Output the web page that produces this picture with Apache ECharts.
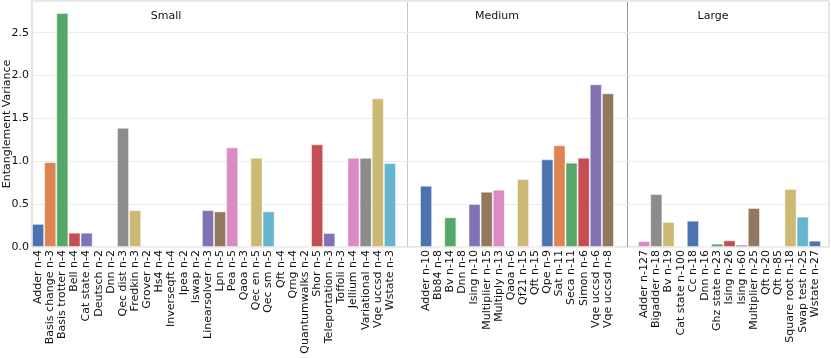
<!DOCTYPE html>
<html>
<head>
<meta charset="utf-8">
<script src="https://cdn.jsdelivr.net/npm/echarts@6/dist/echarts.min.js"></script>
<style>
  html, body { margin: 0; padding: 0; background: #fff; }
  #chart { width: 831px; height: 358px; }
</style>
</head>
<body>
<div id="chart"></div>
<script>
// panel data
const smallNames = ['Adder n-4', 'Basis change n-3', 'Basis trotter n-4', 'Bell n-4', 'Cat state n-4', 'Deutsch n-2',
  'Dnn n-2', 'Qec dist n-3', 'Fredkin n-3', 'Grover n-2', 'Hs4 n-4', 'Inverseqft n-4', 'Ipea n-2', 'Iswap n-2',
  'Linearsolver n-3', 'Lpn n-5', 'Pea n-5', 'Qaoa n-3', 'Qec en n-5', 'Qec sm n-5', 'Qft n-4', 'Qrng n-4',
  'Quantumwalks n-2', 'Shor n-5', 'Teleportation n-3', 'Toffoli n-3', 'Jellium n-4', 'Variational n-4',
  'Vqe uccsd n-4', 'Wstate n-3']
const smallValues = [0.27, 0.99, 2.73, 0.167, 0.167, 0, 0, 1.39, 0.43, 0, 0, 0, 0, 0,
  0.43, 0.416, 1.163, 0, 1.04, 0.416, 0, 0, 0, 1.198, 0.163, 0, 1.04, 1.04, 1.735, 0.98]

const mediumNames = ['Adder n-10', 'Bb84 n-8', 'Bv n-14', 'Dnn n-8', 'Ising n-10', 'Multiplier n-15', 'Multiply n-13',
  'Qaoa n-6', 'Qf21 n-15', 'Qft n-15', 'Qpe n-9', 'Sat n-11', 'Seca n-11', 'Simon n-6', 'Vqe uccsd n-6', 'Vqe uccsd n-8']
const mediumValues = [0.715, 0, 0.347, 0, 0.502, 0.645, 0.669, 0, 0.793, 0, 1.023, 1.187, 0.984, 1.042, 1.898, 1.793]

const largeNames = ['Adder n-127', 'Bigadder n-18', 'Bv n-19', 'Cat state n-100', 'Cc n-18', 'Dnn n-16', 'Ghz state n-23',
  'Ising n-26', 'Ising n-60', 'Multiplier n-25', 'Qft n-20', 'Qft n-85', 'Square root n-18', 'Swap test n-25', 'Wstate n-27']
const largeValues = [0.07, 0.618, 0.292, 0.005, 0.307, 0, 0.039, 0.078, 0.027, 0.455, 0, 0, 0.677, 0.354, 0.074]

const panelTitles = ['Small', 'Medium', 'Large']
const yTicks = [0, 0.5, 1.0, 1.5, 2.0, 2.5]

const palette = ['#4c72b0', '#dd8452', '#55a868', '#c44e52', '#8172b3',
  '#937860', '#da8bc3', '#8c8c8c', '#ccb974', '#64b5cd']

const YMAX = 2.87
const font = 'DejaVu Sans'

const panels = [
  { names: smallNames, values: smallValues, left: 32, width: 364, offset: 0, titleX: 161 },
  { names: mediumNames, values: mediumValues, left: 420, width: 194, offset: 0, titleX: 492 },
  { names: largeNames, values: largeValues, left: 638, width: 183, offset: 6, titleX: 708 }
]

const chart = echarts.init(document.getElementById('chart'))

const grid = [{
  left: 32, right: 2, top: 1, bottom: 111, outerBoundsMode: 'none',
  show: true, borderColor: '#cccccc', borderWidth: 1, backgroundColor: 'transparent'
}]
const xAxis = [{ gridIndex: 0, type: 'value', min: 0, max: 1, show: false }]
const yAxis = [{
  gridIndex: 0,
  type: 'value',
  min: 0,
  max: YMAX,
  interval: 0.5,
  name: 'Entanglement Variance',
  nameLocation: 'middle',
  nameGap: 19,
  nameMoveOverlap: false,
  nameTextStyle: { fontFamily: font, fontSize: 11, color: '#111' },
  axisLine: { show: false },
  axisTick: { show: false },
  axisLabel: {
    fontFamily: font, fontSize: 11, color: '#111', margin: 3,
    formatter: v => yTicks.some(t => Math.abs(t - v) < 1e-6) ? v.toFixed(1) : ''
  },
  splitLine: { lineStyle: { color: '#ececec', width: 1 } }
}]
const series = []
const title = []

panels.forEach((p, i) => {
  const gi = i + 1
  grid.push({ left: p.left, width: p.width, top: 1, bottom: 111, outerBoundsMode: 'none' })
  xAxis.push({
    gridIndex: gi,
    type: 'category',
    data: p.names,
    axisLine: { show: false },
    axisTick: { show: false },
    axisLabel: { interval: 0, rotate: 90, fontFamily: font, fontSize: 11, color: '#111', margin: 3 }
  })
  yAxis.push({ gridIndex: gi, type: 'value', min: 0, max: YMAX, show: false })
  series.push({
    type: 'bar',
    xAxisIndex: gi,
    yAxisIndex: gi,
    barCategoryGap: '0%',
    data: p.values.map((v, k) => ({
      value: v,
      itemStyle: { color: palette[(k + p.offset) % palette.length] }
    })),
    itemStyle: { borderColor: 'rgba(255,255,255,0.45)', borderWidth: 1 },
    animation: false
  })
  title.push({
    text: panelTitles[i],
    left: p.titleX,
    top: 6,
    textAlign: 'center',
    textStyle: { fontFamily: font, fontSize: 11, fontWeight: 'normal', color: '#111' }
  })
})

chart.setOption({
  animation: false,
  title: title,
  grid: grid,
  xAxis: xAxis,
  yAxis: yAxis,
  series: series,
  graphic: [
    { type: 'line', shape: { x1: 407.5, y1: 1, x2: 407.5, y2: 247 }, style: { stroke: '#c8c8c8', lineWidth: 1 } },
    { type: 'line', shape: { x1: 627.5, y1: 1, x2: 627.5, y2: 247 }, style: { stroke: '#999999', lineWidth: 1 } }
  ]
})
</script>
</body>
</html>
